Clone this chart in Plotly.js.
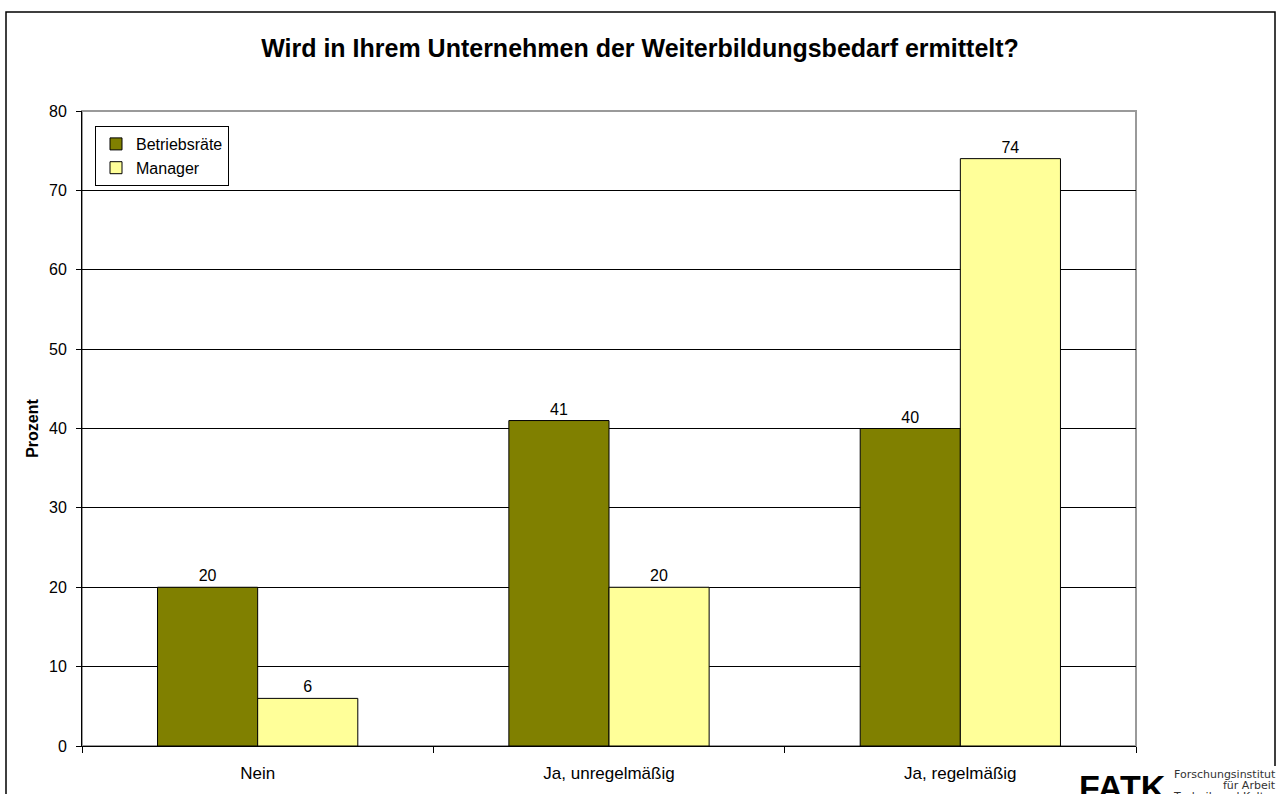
<!DOCTYPE html>
<html>
<head>
<meta charset="utf-8">
<script src="https://cdn.plot.ly/plotly-3.0.1.min.js"></script>
<style>html,body{margin:0;padding:0;background:#fff;}#chart{width:1277px;height:794px;}</style>
</head>
<body>
<div id="chart"></div>
<script>
var categories = ["Nein", "Ja, unregelmäßig", "Ja, regelmäßig"];
var betriebsraete = [20, 41, 40];
var manager = [6, 20, 74];
var seriesNames = ["Betriebsräte", "Manager"];
var yTicks = [0, 10, 20, 30, 40, 50, 60, 70, 80];

var W = 1277, H = 794, L = 82, R = 1136, T = 111, B = 746;
function px(x){ return (x - L) / (R - L); }
function py(y){ return (B - y) / (B - T); }
var FONT = 'Liberation Sans, Arial, sans-serif';

var traces = [
  {type: 'bar', name: seriesNames[0], x: categories, y: betriebsraete,
   marker: {color: '#808000', line: {color: '#000', width: 1}},
   text: betriebsraete.map(String), textposition: 'outside', cliponaxis: false,
   textfont: {family: FONT, size: 16, color: '#000'}},
  {type: 'bar', name: seriesNames[1], x: categories, y: manager,
   marker: {color: '#FFFF99', line: {color: '#000', width: 1}},
   text: manager.map(String), textposition: 'outside', cliponaxis: false,
   textfont: {family: FONT, size: 16, color: '#000'}}
];

var layout = {
  width: W, height: H,
  margin: {l: L, r: W - R, t: T, b: H - B, pad: 0},
  paper_bgcolor: '#fff', plot_bgcolor: '#fff',
  font: {family: FONT, size: 16, color: '#000'},
  barmode: 'group', bargap: 0.43, bargroupgap: 0,
  showlegend: true,
  legend: {x: px(95), y: py(126), xanchor: 'left', yanchor: 'top',
    bordercolor: '#000', borderwidth: 1, bgcolor: '#fff',
    font: {size: 16}, itemwidth: 30},
  title: {text: '<b>Wird in Ihrem Unternehmen der Weiterbildungsbedarf ermittelt?</b>',
    xref: 'paper', x: px(640), xanchor: 'center', yref: 'container', y: 1 - 48 / H, yanchor: 'middle',
    font: {size: 25, color: '#000'}},
  xaxis: {type: 'category', tickson: 'boundaries', ticks: 'outside', ticklen: 6, tickcolor: '#000',
    showline: true, linecolor: '#000', linewidth: 1, showgrid: false, zeroline: false,
    tickfont: {size: 17}, ticklabelstandoff: 12, fixedrange: true},
  yaxis: {range: [0, 80], tickvals: yTicks, ticktext: yTicks.map(String), ticks: 'outside', ticklen: 5,
    tickcolor: '#000', showline: true, linecolor: '#000', linewidth: 1,
    showgrid: true, gridcolor: '#000', gridwidth: 1, zeroline: false,
    tickfont: {size: 16}, ticklabelstandoff: 6,
    title: {text: '<b>Prozent</b>', font: {size: 16}, standoff: 6}},
  shapes: [
    {type: 'rect', xref: 'paper', yref: 'paper', x0: 0, x1: 1, y0: 0, y1: 1,
     line: {color: '#9a9a9a', width: 2}, layer: 'below'},
    {type: 'rect', xref: 'paper', yref: 'paper', x0: px(6), x1: px(1275), y0: py(12), y1: py(806),
     line: {color: '#000', width: 1.5}, fillcolor: 'rgba(0,0,0,0)'},
    {type: 'rect', xref: 'paper', yref: 'paper', x0: px(1070), x1: px(1280), y0: py(766), y1: py(800),
     line: {width: 0}, fillcolor: '#fff'}
  ],
  annotations: [
    {xref: 'paper', yref: 'paper', x: px(1077), y: py(766), xanchor: 'left', yanchor: 'top',
     text: '<b>FATK</b>', showarrow: false,
     font: {family: FONT, size: 34, color: '#000'}},
    {xref: 'paper', yref: 'paper', x: px(1278), y: py(774), xanchor: 'right', yanchor: 'middle',
     text: 'Forschungsinstitut', showarrow: false,
     font: {family: 'DejaVu Sans, sans-serif', size: 11, color: '#333'}},
    {xref: 'paper', yref: 'paper', x: px(1278), y: py(785), xanchor: 'right', yanchor: 'middle',
     text: 'für Arbeit', showarrow: false,
     font: {family: 'DejaVu Sans, sans-serif', size: 11, color: '#333'}},
    {xref: 'paper', yref: 'paper', x: px(1278), y: py(796), xanchor: 'right', yanchor: 'middle',
     text: '· Technik und Kultur', showarrow: false,
     font: {family: 'DejaVu Sans, sans-serif', size: 11, color: '#333'}}
  ]
};

Plotly.newPlot('chart', traces, layout, {displayModeBar: false, staticPlot: true});
</script>
</body>
</html>
